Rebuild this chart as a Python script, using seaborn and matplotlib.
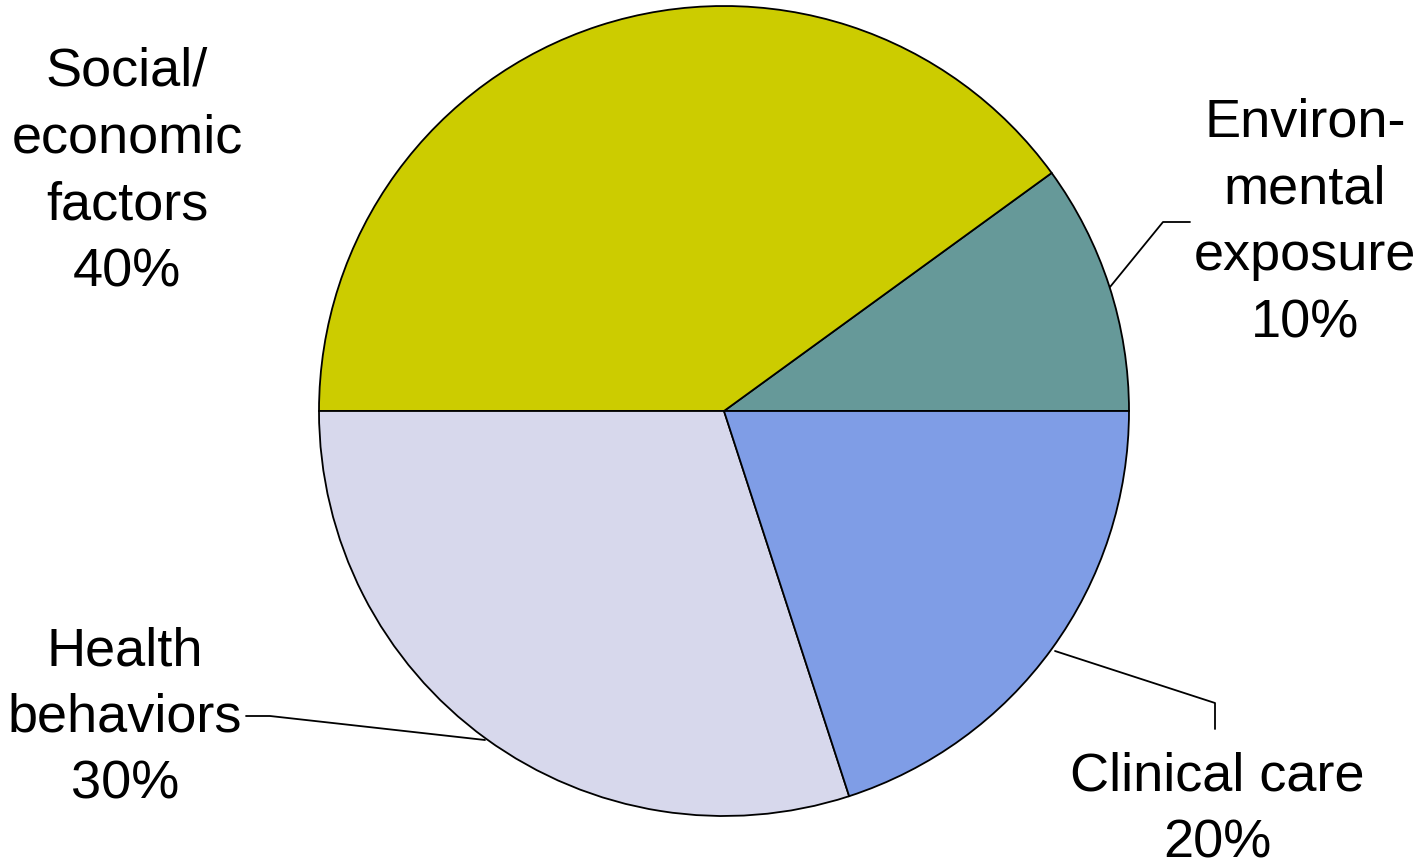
import matplotlib
matplotlib.use("Agg")
import matplotlib.pyplot as plt
import seaborn as sns

sns.set_theme(style="white")
plt.rcParams['font.family'] = ['Liberation Sans', 'DejaVu Sans']

categories = ["Environ-\nmental\nexposure", "Social/\neconomic\nfactors", "Health\nbehaviors", "Clinical care"]
values = [10, 40, 30, 20]
colors = ["#669999", "#CCCC00", "#D7D8EC", "#7F9DE6"]

fig = plt.figure(figsize=(14.24, 8.65), dpi=100)
ax = fig.add_axes([0, 0, 1, 1])

cx, cy, r = 724, 411, 405
wedges, _ = ax.pie(values, colors=colors, startangle=0, counterclock=False,
                   center=(cx, cy), radius=r,
                   wedgeprops=dict(edgecolor="black", linewidth=1.3))
ax.set_xlim(0, 1424)
ax.set_ylim(865, 0)
ax.set_aspect("equal")
ax.axis("off")

fs = 39
label_pos = [(1305, 223), (127, 172), (125, 718), (1217, 810)]
for cat, v, (x, y) in zip(categories, values, label_pos):
    ax.text(x, y, f"{cat}\n{v}%", ha="center", va="center", multialignment="center",
            fontsize=fs, linespacing=1.43, color="black")

leaders = [
    [(1110, 287), (1163, 222), (1190, 222)],
    [(485, 740), (270, 716), (246, 716)],
    [(1055, 651), (1215, 703), (1215, 729)],
]
for pts in leaders:
    xs, ys = zip(*pts)
    ax.plot(xs, ys, color="black", linewidth=1.3)

fig.savefig("out.png", dpi=100)
